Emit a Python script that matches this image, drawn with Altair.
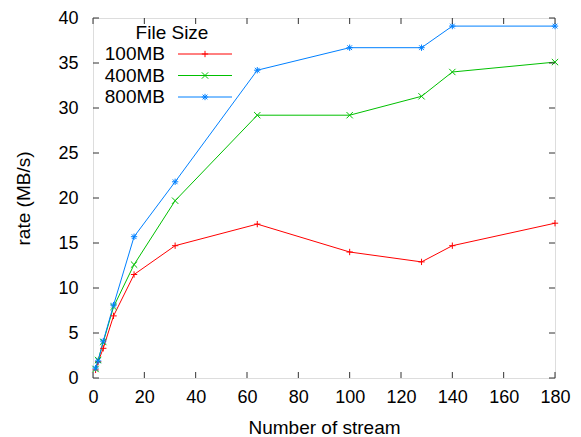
import altair as alt
import pandas as pd

# ---- data ----
streams = [1, 2, 4, 8, 16, 32, 64, 100, 128, 140, 180]
rate_100mb = [0.9, 1.8, 3.3, 6.9, 11.5, 14.7, 17.1, 14.0, 12.9, 14.7, 17.2]
rate_400mb = [1.0, 2.0, 4.0, 7.9, 12.6, 19.7, 29.2, 29.2, 31.3, 34.0, 35.1]
rate_800mb = [1.1, 1.9, 4.1, 8.1, 15.7, 21.8, 34.2, 36.7, 36.7, 39.1, 39.1]
series_names = ["100MB", "400MB", "800MB"]
x_ticks = [0, 20, 40, 60, 80, 100, 120, 140, 160, 180]
y_ticks = [0, 5, 10, 15, 20, 25, 30, 35, 40]
x_title = "Number of stream"
y_title = "rate (MB/s)"
legend_title = "File Size"

# ---- styles ----
colors = ["#ff0000", "#00c000", "#0080ff"]
shapes = [
    "M-1,0L1,0M0,-1L0,1",
    "M-1,-1L1,1M-1,1L1,-1",
    "M-1,0L1,0M0,-1L0,1M-0.75,-0.75L0.75,0.75M-0.75,0.75L0.75,-0.75",
]
W, H = 462, 360
FONT = "Liberation Sans"
FS = 19
TFS = 18

rows = []
for name, vals in zip(series_names, [rate_100mb, rate_400mb, rate_800mb]):
    for s, r in zip(streams, vals):
        rows.append({"streams": s, "rate": r, "series": name})
df = pd.DataFrame(rows)

xscale = alt.Scale(domain=[0, 180], nice=False, zero=False)
yscale = alt.Scale(domain=[0, 40], nice=False)
color_scale = alt.Scale(domain=series_names, range=colors)
shape_scale = alt.Scale(domain=series_names, range=shapes)

x_enc = alt.X(
    "streams:Q", scale=xscale,
    axis=alt.Axis(values=x_ticks, grid=False, domain=False, ticks=False,
                  labelFontSize=TFS, labelFont=FONT, labelColor="#000",
                  labelPadding=10, title=x_title, titleFont=FONT,
                  titleFontSize=FS, titleFontWeight="normal", titleColor="#000",
                  titleX=W / 2, titleY=55, titleBaseline="alphabetic",
                  labelFlush=False, labelOverlap=False),
)
y_enc = alt.Y(
    "rate:Q", scale=yscale,
    axis=alt.Axis(values=y_ticks, grid=False, domain=False, ticks=False,
                  labelFontSize=TFS, labelFont=FONT, labelColor="#000",
                  labelPadding=15, title=y_title, titleFont=FONT,
                  titleFontSize=FS, titleFontWeight="normal", titleColor="#000",
                  titleX=-70, titleY=H / 2, titleAngle=270,
                  titleBaseline="middle", titleAlign="center",
                  labelFlush=False, labelOverlap=False),
)

base = alt.Chart(df)
lines = base.mark_line(strokeWidth=1, clip=True).encode(
    x=x_enc, y=y_enc,
    color=alt.Color("series:N", scale=color_scale, legend=None),
    detail="series:N",
)
points = base.mark_point(filled=False, strokeWidth=1, size=40, opacity=1).encode(
    x=alt.X("streams:Q", scale=xscale),
    y=alt.Y("rate:Q", scale=yscale),
    color=alt.Color("series:N", scale=color_scale, legend=None),
    shape=alt.Shape("series:N", scale=shape_scale, legend=None),
)

# inward ticks on all four sides
xt = pd.DataFrame({"v": x_ticks})
yt = pd.DataFrame({"v": y_ticks})
TICK = "#333333"
tick_b = alt.Chart(xt).mark_rule(color=TICK, strokeWidth=1).encode(
    x=alt.X("v:Q", scale=xscale), y=alt.value(H), y2=alt.value(H - 6))
tick_t = alt.Chart(xt).mark_rule(color=TICK, strokeWidth=1).encode(
    x=alt.X("v:Q", scale=xscale), y=alt.value(0), y2=alt.value(6))
tick_l = alt.Chart(yt).mark_rule(color=TICK, strokeWidth=1).encode(
    y=alt.Y("v:Q", scale=yscale), x=alt.value(0), x2=alt.value(6))
tick_r = alt.Chart(yt).mark_rule(color=TICK, strokeWidth=1).encode(
    y=alt.Y("v:Q", scale=yscale), x=alt.value(W), x2=alt.value(W - 6))

# gnuplot-style key
key_layers = []
key_title = alt.Chart(pd.DataFrame({"t": [legend_title]})).mark_text(
    font=FONT, fontSize=FS, align="center", baseline="middle", color="#000"
).encode(text="t:N", x=alt.value(79), y=alt.value(15))
key_layers.append(key_title)
for i, (name, col, shp) in enumerate(zip(series_names, colors, shapes)):
    ly = 36 + 21.5 * i
    kd = alt.Chart(pd.DataFrame({"s": [name]}))
    key_layers.append(kd.mark_text(font=FONT, fontSize=FS, align="right",
                                   baseline="middle", color="#000").encode(
        text="s:N", x=alt.value(72), y=alt.value(ly)))
    key_layers.append(kd.mark_rule(color=col, strokeWidth=1).encode(
        x=alt.value(85), x2=alt.value(139), y=alt.value(ly)))
    key_layers.append(kd.mark_point(shape=shp, filled=False, strokeWidth=1,
                                    size=40, color=col, opacity=1).encode(
        x=alt.value(112), y=alt.value(ly)))

chart = alt.layer(
    lines, points, tick_b, tick_t, tick_l, tick_r, *key_layers
).properties(
    width=W, height=H,
    autosize=alt.AutoSizeParams(type="none"),
    padding={"left": 85, "top": 10, "right": 18, "bottom": 59},
).configure_view(
    stroke="#808080", strokeWidth=1.5
).configure(background="white")

chart.save("out.html", embed_options={"renderer": "svg", "actions": False})
